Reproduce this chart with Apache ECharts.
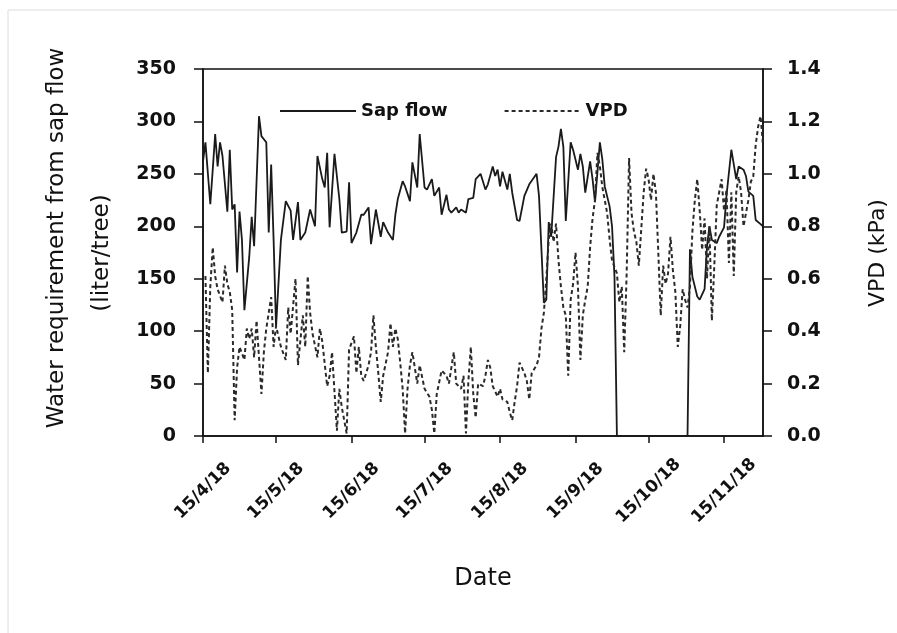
<!DOCTYPE html>
<html>
<head>
<meta charset="utf-8">
<script src="https://cdn.jsdelivr.net/npm/echarts@6/dist/echarts.min.js"></script>
<style>
  html, body { margin: 0; padding: 0; background: #fff; }
  #chart { width: 897px; height: 633px; }
</style>
</head>
<body>
<div id="chart"></div>
<script>
// days counted from 15/4/18
var tickDays = [0, 30, 61, 91, 122, 153, 183, 214];
var tickLabels = ['15/4/18', '15/5/18', '15/6/18', '15/7/18', '15/8/18', '15/9/18', '15/10/18', '15/11/18'];

// sap flow (liter/tree)
var sapDays = [0,1,3,4,5,6,7,8,10,11,12,13,14,15,16,17,19,20,21,23,24,25,26,27,28,29,30,32,34,36,37,39,40,42,44,46,47,49,50,51,52,54,56,57,59,60,61,63,65,66,68,69,71,73,74,76,78,79,80,82,83,85,86,88,89,91,92,94,95,97,98,100,101,102,104,105,106,108,109,111,112,114,116,117,119,120,121,122,123,125,126,127,129,130,132,134,137,138,140,141,142,143,145,146,147,148,149,151,152,154,155,156,157,159,160,161,163,164,165,167,168,169,170,199,200,201,203,204,206,207,208,209,211,212,214,215,217,218,219,220,222,223,224,226,227,229,230];
var sapValues = [262,280,221,254,288,257,280,267,214,273,216,221,156,214,187,120,171,209,181,305,286,283,280,194,259,187,104,187,224,215,187,223,187,194,216,200,267,245,237,270,199,269,226,194,195,242,184,194,211,211,218,183,216,190,204,194,187,211,226,243,238,224,261,237,288,237,235,245,229,237,211,230,216,213,218,213,216,213,226,227,245,250,235,240,257,248,254,238,252,235,250,232,206,205,229,240,250,229,127,130,204,190,266,276,293,276,205,280,273,254,269,257,232,262,245,223,280,264,238,219,200,152,0,0,178,152,133,130,140,181,200,187,184,190,199,229,273,259,245,257,254,248,233,229,206,202,200];

// VPD (kPa)
var vpdDays = [1,2,3,4,5,6,8,9,10,11,12,13,14,15,17,18,19,20,21,22,24,25,26,28,29,30,32,34,35,36,38,39,41,42,43,44,45,47,48,49,51,52,53,55,56,57,59,60,62,63,64,65,66,68,69,70,71,72,73,74,76,77,78,79,80,81,82,83,84,85,86,88,89,91,93,94,95,96,98,100,101,103,104,106,107,108,109,110,111,112,113,115,116,117,118,119,121,122,123,125,126,127,128,129,130,132,133,134,135,137,138,139,140,141,142,143,144,145,146,147,148,149,150,151,152,153,154,155,156,157,158,159,160,161,162,163,164,166,167,168,170,171,172,173,174,175,176,177,178,179,181,182,183,184,185,186,187,188,189,190,191,192,193,194,195,196,197,198,199,200,201,202,203,204,205,206,207,208,209,210,211,212,213,214,215,216,217,218,219,220,221,222,224,225,226,227,228,229,230];
var vpdValues = [0.61,0.24,0.57,0.72,0.61,0.56,0.51,0.65,0.58,0.55,0.48,0.06,0.26,0.34,0.29,0.41,0.37,0.41,0.30,0.44,0.16,0.32,0.41,0.53,0.34,0.42,0.34,0.29,0.49,0.39,0.60,0.27,0.46,0.34,0.61,0.47,0.39,0.30,0.41,0.36,0.19,0.23,0.32,0.02,0.18,0.11,0.01,0.33,0.38,0.24,0.34,0.23,0.21,0.27,0.32,0.46,0.34,0.24,0.13,0.23,0.32,0.43,0.34,0.41,0.37,0.28,0.18,0.01,0.18,0.27,0.32,0.20,0.27,0.18,0.15,0.10,0.01,0.16,0.25,0.23,0.20,0.32,0.20,0.18,0.23,0.01,0.21,0.34,0.16,0.07,0.20,0.19,0.23,0.29,0.26,0.19,0.15,0.18,0.14,0.13,0.09,0.06,0.13,0.19,0.28,0.24,0.21,0.14,0.24,0.27,0.30,0.41,0.47,0.60,0.75,0.81,0.74,0.81,0.67,0.57,0.49,0.46,0.23,0.52,0.58,0.70,0.57,0.29,0.46,0.52,0.57,0.72,0.83,0.90,1.08,1.03,0.95,0.85,0.75,0.67,0.62,0.51,0.57,0.32,0.62,1.06,0.85,0.78,0.74,0.65,0.93,1.02,0.98,0.90,1.00,0.93,0.70,0.46,0.65,0.58,0.62,0.76,0.63,0.55,0.34,0.42,0.56,0.52,0.49,0.57,0.78,0.90,0.98,0.86,0.71,0.83,0.60,0.80,0.44,0.65,0.88,0.93,0.98,0.86,0.94,0.66,0.93,0.61,0.93,0.99,0.93,0.80,0.90,0.97,0.99,1.11,1.18,1.22,1.11];

var font = 'DejaVu Sans';

function pairs(days, vals) {
    return days.map(function (d, i) { return [d, vals[i]]; });
}

var chart = echarts.init(document.getElementById('chart'));
chart.setOption({
    animation: false,
    backgroundColor: '#fff',
    graphic: [{
        type: 'rect',
        shape: { x: 8, y: 10, width: 1000, height: 1000 },
        style: { fill: 'none', stroke: '#dcdcdc', lineWidth: 1 },
        silent: true
    }, {
        // left axis title, two lines placed separately like the original
        type: 'text', x: 57, y: 238, rotation: Math.PI / 2,
        style: { text: 'Water requirement from sap flow', fontFamily: font, fontSize: 23,
                 fill: '#111', textAlign: 'center', textVerticalAlign: 'middle' }
    }, {
        type: 'text', x: 102, y: 253, rotation: Math.PI / 2,
        style: { text: '(liter/tree)', fontFamily: font, fontSize: 23,
                 fill: '#111', textAlign: 'center', textVerticalAlign: 'middle' }
    }, {
        type: 'text', x: 878, y: 253, rotation: Math.PI / 2,
        style: { text: 'VPD (kPa)', fontFamily: font, fontSize: 22,
                 fill: '#111', textAlign: 'center', textVerticalAlign: 'middle' }
    }],
    grid: {
        left: 203, right: 134, top: 69, bottom: 197,
        show: true, borderColor: '#111', borderWidth: 1.5,
        backgroundColor: 'transparent'
    },
    legend: {
        left: 279, top: 102, padding: 0,
        itemWidth: 76, itemHeight: 14, itemGap: 56,
        itemStyle: { opacity: 0 },
        textStyle: { fontFamily: font, fontSize: 18, fontWeight: 'bold', color: '#111' },
        data: ['Sap flow', 'VPD']
    },
    xAxis: {
        type: 'value',
        min: 0, max: 230,
        name: 'Date',
        nameLocation: 'middle',
        nameGap: 131,
        nameTextStyle: { fontFamily: font, fontSize: 24, color: '#111' },
        axisLine: { lineStyle: { color: '#111', width: 1.5 } },
        axisTick: { customValues: tickDays, length: 7, lineStyle: { color: '#111', width: 1.5 } },
        axisLabel: {
            customValues: tickDays,
            rotate: 45,
            margin: 55,
            align: 'center',
            verticalAlign: 'middle',
            fontFamily: font, fontSize: 17, fontWeight: 'bold', color: '#111',
            formatter: function (v) {
                var i = tickDays.indexOf(v);
                return i >= 0 ? tickLabels[i] : '';
            }
        },
        splitLine: { show: false }
    },
    yAxis: [{
        type: 'value',
        min: 0, max: 350, interval: 50,
        axisLine: { show: true, lineStyle: { color: '#111', width: 1.5 } },
        axisTick: { show: true, length: 9, lineStyle: { color: '#111', width: 1.5 } },
        axisLabel: { margin: 27, fontFamily: font, fontSize: 19, fontWeight: 'bold', color: '#111' },
        splitLine: { show: false }
    }, {
        type: 'value',
        min: 0, max: 1.4, interval: 0.2,
        axisLine: { show: true, lineStyle: { color: '#111', width: 1.5 } },
        axisTick: { show: true, length: 9, lineStyle: { color: '#111', width: 1.5 } },
        axisLabel: {
            margin: 24, fontFamily: font, fontSize: 19, fontWeight: 'bold', color: '#111',
            formatter: function (v) { return v.toFixed(1); }
        },
        splitLine: { show: false }
    }],
    series: [{
        name: 'Sap flow',
        type: 'line',
        symbol: 'none',
        lineStyle: { color: '#1a1a1a', width: 1.8 },
        itemStyle: { color: '#1a1a1a' },
        data: pairs(sapDays, sapValues)
    }, {
        name: 'VPD',
        type: 'line',
        yAxisIndex: 1,
        symbol: 'none',
        lineStyle: { color: '#2a2a2a', width: 2, type: [4, 3] },
        itemStyle: { color: '#2a2a2a' },
        data: pairs(vpdDays, vpdValues)
    }]
});
</script>
</body>
</html>
